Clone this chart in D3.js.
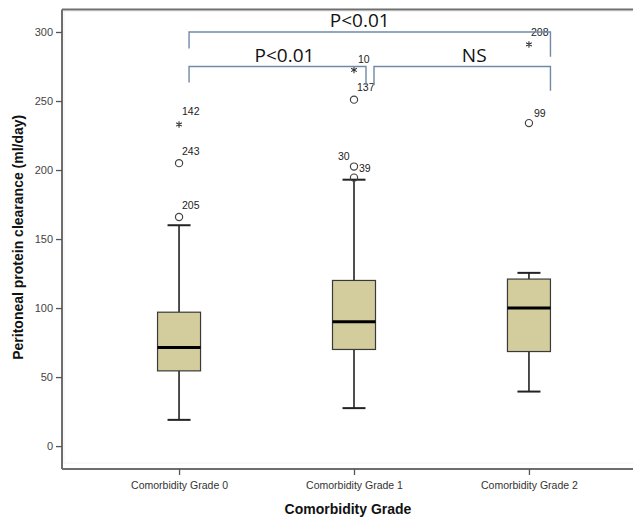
<!DOCTYPE html>
<html>
<head>
<meta charset="utf-8">
<script src="https://cdn.jsdelivr.net/npm/d3@7"></script>
<style>
  html, body { margin: 0; padding: 0; background: #fff; }
  svg { display: block; }
</style>
</head>
<body>
<div id="chart"></div>
<script>
// Peritoneal protein clearance by comorbidity grade (box plot summary)
const categories = ["Comorbidity Grade 0", "Comorbidity Grade 1", "Comorbidity Grade 2"];
const whiskerLow  = [19, 27.5, 39.5];
const q1          = [54.5, 70, 68.5];
const median      = [71.5, 90, 100];
const q3          = [97, 120, 121];
const whiskerHigh = [160, 193, 125.5];

// outliers: group index, value, case label, kind ("o" = outlier, "*" = extreme)
const outlierGroup = [0, 0, 0, 1, 1, 1, 1, 2, 2];
const outlierValue = [166, 205, 233, 194.5, 202.5, 251, 272.5, 234, 291];
const outlierLabel = ["205", "243", "142", "30", "39", "137", "10", "99", "208"];
const outlierKind  = ["o", "o", "*", "o", "o", "o", "*", "o", "*"];

// pairwise comparisons: groups joined, bracket level, drop ends, result
const bracketFrom  = [0, 0, 1];
const bracketTo    = [2, 1, 2];
const bracketLevel = [300, 275, 275];
const bracketEndA  = [288, 263.5, 261.5];
const bracketEndB  = [282, 261.5, 257.5];
const bracketText  = ["P<0.01", "P<0.01", "NS"];

const yTicks = [0, 50, 100, 150, 200, 250, 300];

const W = 633, H = 517;
const svg = d3.select("#chart").append("svg").attr("width", W).attr("height", H);

const mLeft = 62, mTop = 9.5, mBottom = 469, mRight = 646;
const y = d3.scaleLinear().domain([-16.6, 316.3]).range([mBottom, mTop]);
const x = d3.scalePoint().domain(categories).range([mLeft, mRight]).padding(0.669);
const boxW = 43, capW = 22;
const font = "Liberation Sans, Arial, sans-serif";

// plot frame (top edge, faint inner border, left/bottom axes)
const axisCol = "#6e6e6e";
svg.append("rect").attr("x", mLeft + 2).attr("y", mTop + 2).attr("width", mRight - mLeft)
  .attr("height", mBottom - mTop - 8).attr("fill", "none").attr("stroke", "#f2f2f2");
svg.append("line").attr("x1", mLeft).attr("x2", mRight).attr("y1", mTop).attr("y2", mTop)
  .attr("stroke", axisCol).attr("stroke-width", 2);

const yAxis = svg.append("g").attr("transform", `translate(${mLeft},0)`).attr("color", "#444")
  .call(d3.axisLeft(y).tickValues(yTicks).tickSize(6).tickPadding(3).tickFormat(d3.format("d")));
yAxis.select(".domain").attr("stroke", axisCol).attr("stroke-width", 2)
  .attr("d", `M0,${mTop}V${mBottom}`);
yAxis.selectAll(".tick line").attr("stroke", "#555").attr("stroke-width", 1.3);
yAxis.selectAll(".tick text").attr("fill", "#444").style("font-family", font).style("font-size", "11px");

const xAxis = svg.append("g").attr("transform", `translate(0,${mBottom})`).attr("color", "#333")
  .call(d3.axisBottom(x).tickSize(6).tickPadding(7));
xAxis.select(".domain").attr("stroke", axisCol).attr("stroke-width", 2)
  .attr("d", `M${mLeft},0H${mRight}`);
xAxis.selectAll(".tick line").attr("stroke", "#555").attr("stroke-width", 1.3);
xAxis.selectAll(".tick text").attr("fill", "#333").style("font-family", font).style("font-size", "10.5px");

// axis titles
svg.append("text").attr("x", 348).attr("y", 514).attr("text-anchor", "middle")
  .style("font-family", font).style("font-weight", "bold").style("font-size", "14px")
  .attr("fill", "#111").text("Comorbidity Grade");
svg.append("text").attr("transform", `translate(23,${(mTop + mBottom) / 2 - 2}) rotate(-90)`)
  .attr("text-anchor", "middle")
  .style("font-family", font).style("font-weight", "bold").style("font-size", "14px")
  .attr("fill", "#111").text("Peritoneal protein clearance (ml/day)");

// boxes
const groups = categories.map((c, i) => ({
  c, lo: whiskerLow[i], q1: q1[i], med: median[i], q3: q3[i], hi: whiskerHigh[i]
}));
const g = svg.append("g").selectAll("g").data(groups).join("g")
  .attr("transform", d => `translate(${x(d.c)},0)`);

g.append("line").attr("y1", d => y(d.lo)).attr("y2", d => y(d.q1))
  .attr("stroke", "#222").attr("stroke-width", 1.6);
g.append("line").attr("y1", d => y(d.q3)).attr("y2", d => y(d.hi))
  .attr("stroke", "#222").attr("stroke-width", 1.6);
g.append("line").attr("x1", -capW / 2 - 0.5).attr("x2", capW / 2 + 0.5)
  .attr("y1", d => y(d.lo)).attr("y2", d => y(d.lo)).attr("stroke", "#222").attr("stroke-width", 2);
g.append("line").attr("x1", -capW / 2 - 0.5).attr("x2", capW / 2 + 0.5)
  .attr("y1", d => y(d.hi)).attr("y2", d => y(d.hi)).attr("stroke", "#222").attr("stroke-width", 2);
g.append("rect").attr("x", -boxW / 2).attr("width", boxW)
  .attr("y", d => y(d.q3)).attr("height", d => y(d.q1) - y(d.q3))
  .attr("fill", "#d3cd9d").attr("stroke", "#3a3a3a").attr("stroke-width", 1.2);
g.append("line").attr("x1", -boxW / 2).attr("x2", boxW / 2)
  .attr("y1", d => y(d.med)).attr("y2", d => y(d.med)).attr("stroke", "#000").attr("stroke-width", 3);

// outliers and extremes with case labels
const lblOffset = {
  "205": [3, -8], "243": [3, -8], "142": [3, -9], "30": [-16, -17.5], "39": [5, 5],
  "137": [3, -9], "10": [4, -7], "99": [5, -6], "208": [2, -8.5]
};
const og = svg.append("g");
outlierValue.forEach((v, i) => {
  const cx = x(categories[outlierGroup[i]]), cy = y(v);
  if (outlierKind[i] === "o") {
    og.append("circle").attr("cx", cx).attr("cy", cy).attr("r", 3.6)
      .attr("fill", "none").attr("stroke", "#444").attr("stroke-width", 1.2);
  } else {
    og.append("path").attr("transform", `translate(${cx},${cy})`)
      .attr("d", d3.symbol(d3.symbolAsterisk, 30)())
      .attr("fill", "none").attr("stroke", "#333").attr("stroke-width", 1.1);
  }
  const off = lblOffset[outlierLabel[i]] || [3, -8];
  og.append("text").attr("x", cx + off[0]).attr("y", cy + off[1])
    .style("font-family", font).style("font-size", "10.5px")
    .attr("fill", "#222").text(outlierLabel[i]);
});

// comparison brackets
const bracketCol = "#6f8aa6";
const insetA = [10, 10, 20];     // left end offset from its box centre
const insetB = [21.5, 12, 21.5]; // right end offset from its box centre
const labelShift = [-10, 7, 12];
const bg = svg.append("g");
bracketText.forEach((t, i) => {
  const xa = x(categories[bracketFrom[i]]) + insetA[i];
  const xb = x(categories[bracketTo[i]]) + insetB[i];
  const yl = y(bracketLevel[i]);
  bg.append("path")
    .attr("d", `M${xa},${y(bracketEndA[i])}V${yl}H${xb}V${y(bracketEndB[i])}`)
    .attr("fill", "none").attr("stroke", bracketCol).attr("stroke-width", 1.4);
  bg.append("text").attr("x", (xa + xb) / 2 + labelShift[i]).attr("y", yl - 5)
    .attr("text-anchor", "middle")
    .style("font-family", "Open Sans, Liberation Sans, sans-serif").style("font-size", "19px")
    .attr("fill", "#111").text(t);
});
</script>
</body>
</html>
